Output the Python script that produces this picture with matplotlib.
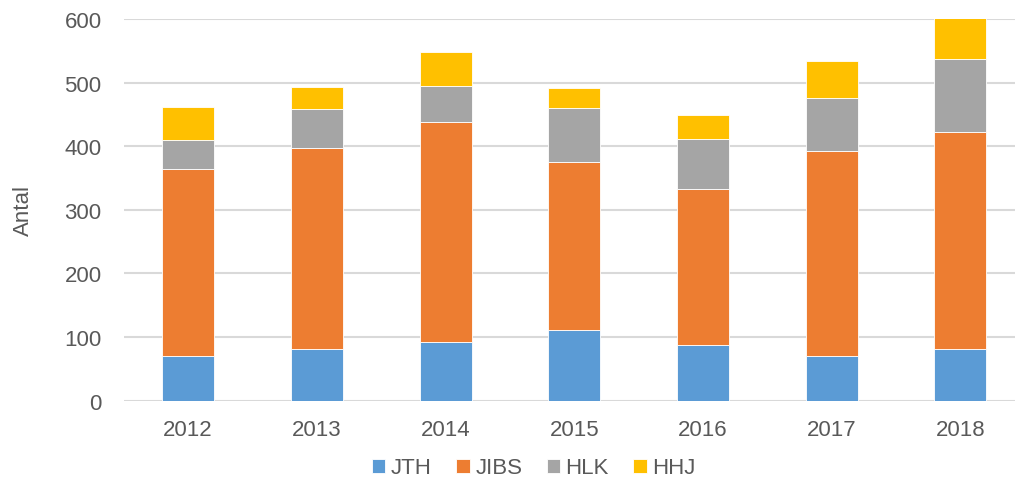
import matplotlib.pyplot as plt
import numpy as np

plt.rcParams['font.family'] = ['Liberation Sans', 'DejaVu Sans']

years = ['2012', '2013', '2014', '2015', '2016', '2017', '2018']
series_names = ['JTH', 'JIBS', 'HLK', 'HHJ']
jth = [70, 82, 93, 111, 87, 70, 82]
jibs = [294, 315, 345, 264, 246, 322, 341]
hlk = [46, 62, 56, 85, 79, 84, 114]
hhj = [51, 34, 54, 31, 37, 58, 64]

colors = ['#5B9BD5', '#ED7D31', '#A5A5A5', '#FFC000']
text_color = '#595959'
fs = 16

fig = plt.figure(figsize=(10.15, 4.85), dpi=100)
ax = fig.add_axes([0.1219, 0.1718, 0.8877, 0.7868])

x = np.arange(len(years))
bottom = np.zeros(len(years))
for name, vals, c in zip(series_names, [jth, jibs, hlk, hhj], colors):
    ax.bar(x, vals, width=0.404, bottom=bottom, color=c, label=name,
           edgecolor='white', linewidth=0.6, zorder=3)
    bottom += np.array(vals)

ax.set_xlim(-0.5, len(years) - 0.5)
ax.set_ylim(0, 600)
ax.set_yticks(range(0, 601, 100))
ax.set_xticks(x)
ax.set_xticklabels(years)
ax.yaxis.grid(True, color='#D9D9D9', linewidth=1.5, zorder=0)
ax.set_axisbelow(True)
for s in ax.spines.values():
    s.set_visible(False)
ax.tick_params(axis='both', length=0, labelsize=fs, colors=text_color)
ax.tick_params(axis='y', pad=16)
ax.tick_params(axis='x', pad=13)
ax.set_ylabel('Antal', fontsize=fs, color=text_color, labelpad=22)

fig.legend(loc='center', bbox_to_anchor=(0.526, 0.033), ncol=4, frameon=False,
           fontsize=fs, labelcolor=text_color, handlelength=0.6,
           handleheight=0.6, handletextpad=0.25, columnspacing=1.1)

fig.savefig('out.png', dpi=100)
